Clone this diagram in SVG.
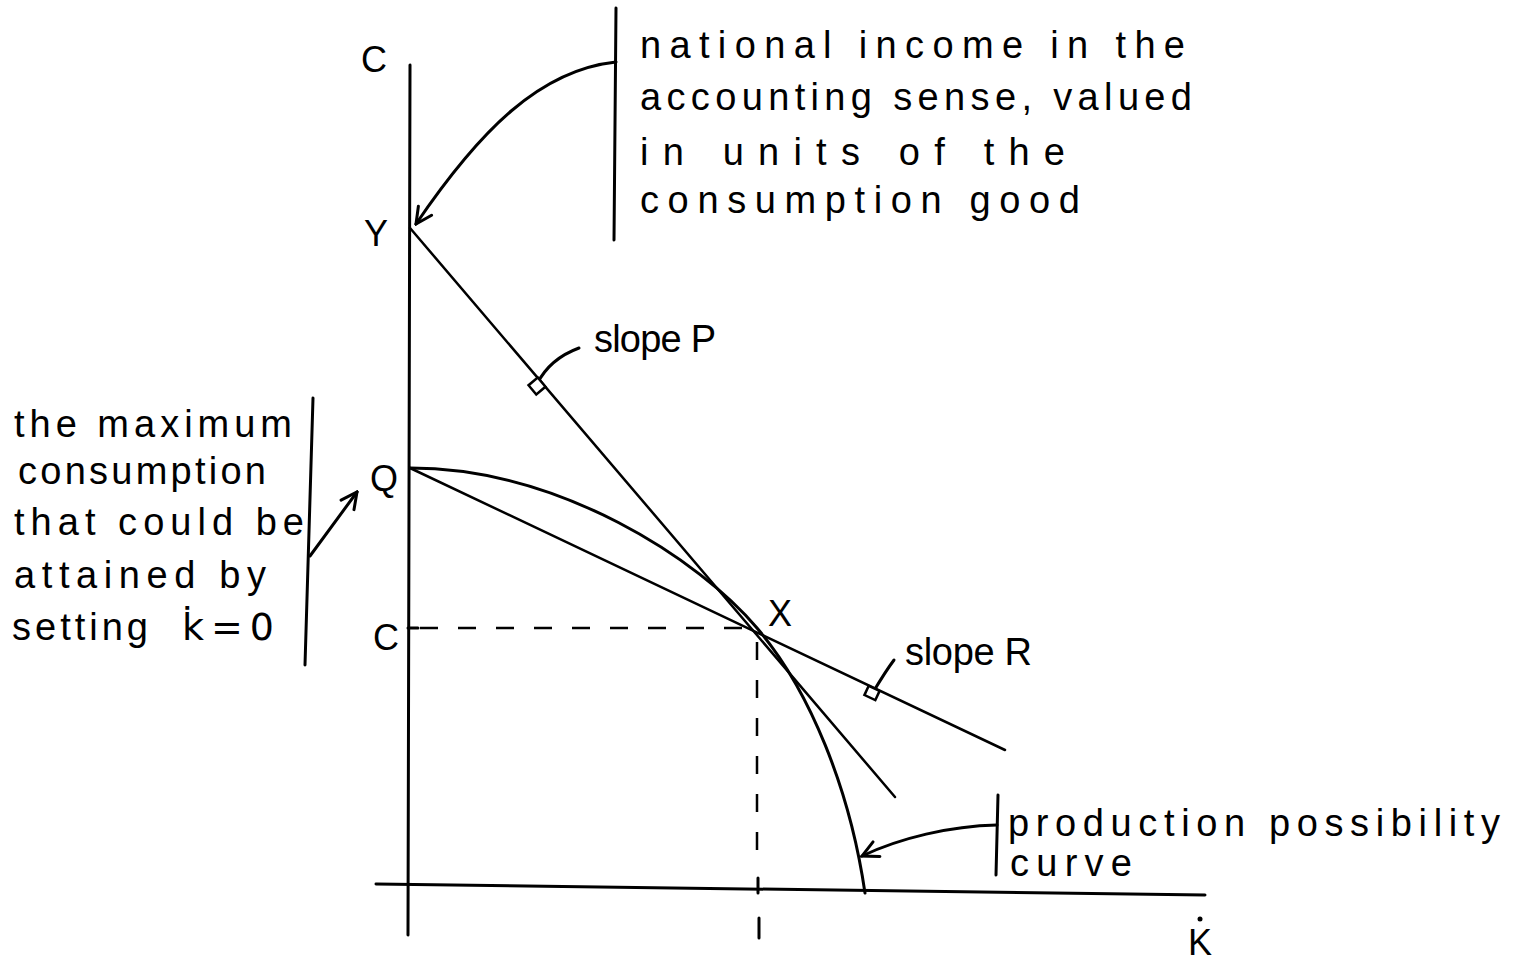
<svg xmlns="http://www.w3.org/2000/svg" width="1518" height="961" viewBox="0 0 1518 961">
<style>
.ln{fill:none;stroke:#000;stroke-width:3;stroke-linecap:round;stroke-linejoin:round}
.thin{fill:none;stroke:#000;stroke-width:2.5;stroke-linecap:round}
.dash{fill:none;stroke:#000;stroke-width:2.5;stroke-dasharray:18,20}
.t{font-family:"Liberation Sans",Arial,sans-serif;font-size:38px;fill:#000}
.lab{font-family:"Liberation Sans",Arial,sans-serif;font-size:36px;fill:#000}
</style>
<defs>
<marker id="ah" viewBox="0 0 20 20" refX="18" refY="10" markerWidth="20" markerHeight="20" markerUnits="userSpaceOnUse" orient="auto">
<path d="M2,2 L18,10 L2,18" fill="none" stroke="#000" stroke-width="3" stroke-linecap="round"/>
</marker>
</defs>
<rect width="1518" height="961" fill="#fff"/>
<g id="axes">
<path class="ln" d="M410,65 L408,935"/>
<path class="ln" d="M376,884 L1205,895"/>
<path class="ln" d="M758,878 L758,893"/>
</g>
<g id="connectors">
<path class="thin" d="M410,228 L895,797"/>
<path class="thin" d="M410,468 L1005,750"/>
<path class="ln" d="M410,468 C560,468 700,560 757,628 C810,690 850,790 865,893"/>
<path class="dash" d="M420,628 L757,628"/>
<path class="dash" d="M757,642 L757,865"/>
<path class="ln" d="M759,918 L759,938"/>
<path class="ln" d="M418,628 L408,628"/>
<path class="ln" d="M616,62 C540,70 480,130 416,224" marker-end="url(#ah)"/>
<path class="ln" d="M310,556 L357,492" marker-end="url(#ah)"/>
<path class="ln" d="M579,348 C560,355 545,368 537,384"/>
<rect x="531" y="380" width="12" height="12" fill="#fff" stroke="#000" stroke-width="2.5" transform="rotate(-40 537 386)"/>
<path class="ln" d="M894,660 C885,672 878,684 872,694"/>
<rect x="866" y="688" width="12" height="10" fill="#fff" stroke="#000" stroke-width="2.5" transform="rotate(25 872 693)"/>
<path class="ln" d="M997,825 C950,826 900,838 862,856" marker-end="url(#ah)"/>
</g>
<g id="axis-labels">
<text class="lab" x="361" y="72">C</text>
<text class="lab" x="364" y="246">Y</text>
<text class="lab" x="370" y="491">Q</text>
<text class="lab" x="373" y="650">C</text>
<text class="lab" x="768" y="626">X</text>
<text class="lab" x="1188" y="955">K</text>
<circle cx="1200" cy="919" r="2.5" fill="#000"/>
</g>
<g id="note-income">
<path class="ln" d="M616,8 L614,240"/>
<text class="t" x="640" y="58" textLength="545" lengthAdjust="spacing">national income in the</text>
<text class="t" x="640" y="110" textLength="552" lengthAdjust="spacing">accounting sense, valued</text>
<text class="t" x="640" y="165" textLength="425" lengthAdjust="spacing">in units of the</text>
<text class="t" x="640" y="213" textLength="440" lengthAdjust="spacing">consumption good</text>
</g>
<g id="note-max">
<path class="ln" d="M313,398 L305,665"/>
<text class="t" x="14" y="437" textLength="278" lengthAdjust="spacing">the maximum</text>
<text class="t" x="18" y="484" textLength="248" lengthAdjust="spacing">consumption</text>
<text class="t" x="14" y="535" textLength="290" lengthAdjust="spacing">that could be</text>
<text class="t" x="14" y="588" textLength="252" lengthAdjust="spacing">attained by</text>
<text class="t" x="12" y="640"><tspan letter-spacing="4">setting</tspan> <tspan x="182" letter-spacing="7" font-family="'DejaVu Sans',sans-serif">k̇=0</tspan></text>
</g>
<g id="note-slopeP">
<text class="t" x="594" y="352" font-size="32" textLength="122" lengthAdjust="spacing">slope P</text>
</g>
<g id="note-slopeR">
<text class="t" x="905" y="665" font-size="32" textLength="127" lengthAdjust="spacing">slope R</text>
</g>
<g id="note-ppc">
<path class="ln" d="M998,795 L996,875"/>
<text class="t" x="1008" y="836" font-size="32" textLength="492" lengthAdjust="spacing">production possibility</text>
<text class="t" x="1010" y="876" font-size="32" textLength="122" lengthAdjust="spacing">curve</text>
</g>
</svg>
